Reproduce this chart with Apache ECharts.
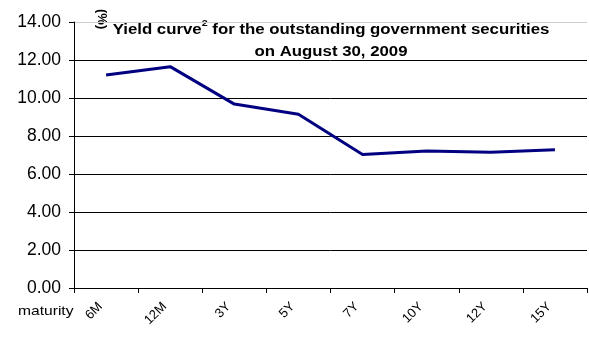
<!DOCTYPE html>
<html>
<head>
<meta charset="utf-8">
<script src="https://cdn.jsdelivr.net/npm/echarts@6/dist/echarts.min.js"></script>
<style>
  html, body { margin: 0; padding: 0; background: #fff; }
  #chart { width: 589px; height: 339px; }
</style>
</head>
<body>
<div id="chart"></div>
<script>
// Maturity buckets along the x axis
const maturities = ['6M', '12M', '3Y', '5Y', '7Y', '10Y', '12Y', '15Y'];
// Yield (%) for each maturity
const yields = [11.21, 11.65, 9.68, 9.14, 7.03, 7.21, 7.14, 7.28];
// Value axis range
const yMin = 0;
const yMax = 14;
const yStep = 2;

const chart = echarts.init(document.getElementById('chart'));
const font = 'Liberation Sans, Arial, sans-serif';
// text is drawn slightly wide, as in the original workbook export
const wide = 1.2;

chart.setOption({
  animation: false,
  backgroundColor: '#ffffff',
  grid: { left: 74, right: 2, top: 22, bottom: 51, containLabel: false },
  xAxis: {
    type: 'category',
    data: maturities,
    boundaryGap: true,
    axisLine: { lineStyle: { color: '#000', width: 1 } },
    axisTick: { show: true, length: 5, lineStyle: { color: '#000' } },
    axisLabel: {
      rotate: 45, color: '#000', fontFamily: font, fontSize: 13,
      margin: 11, padding: [0, 8, 0, 0]
    },
    splitLine: { show: false }
  },
  yAxis: {
    type: 'value',
    min: yMin, max: yMax, interval: yStep,
    axisLine: { show: true, lineStyle: { color: '#000', width: 1 } },
    axisTick: { show: true, length: 5, lineStyle: { color: '#000' } },
    axisLabel: {
      color: '#000', fontFamily: font, fontSize: 17.5, margin: 13,
      formatter: v => v.toFixed(2)
    },
    splitLine: {
      show: true,
      lineStyle: {
        color: ['#000', '#000', '#000', '#000', '#000', '#000', '#000', '#cfcfcf'],
        width: 1
      }
    }
  },
  series: [{
    type: 'line',
    data: yields,
    symbol: 'none',
    lineStyle: { color: '#000080', width: 3 },
    z: 3
  }],
  graphic: [
    {
      type: 'text',
      x: 18, y: 311,
      scaleX: wide,
      style: {
        text: 'maturity', font: '13px ' + font, fill: '#000',
        align: 'left', verticalAlign: 'middle'
      }
    },
    {
      type: 'text',
      x: 102, y: 9,
      rotation: -Math.PI / 2,
      style: {
        text: '(%)', font: 'bold 13px ' + font, fill: '#000',
        align: 'left', verticalAlign: 'middle'
      }
    },
    {
      type: 'text',
      x: 331, y: 19,
      scaleX: wide,
      style: {
        text: '{t|Yield curve}{s|2}{t| for the outstanding government securities}\n{t|on August 30, 2009}',
        align: 'center',
        verticalAlign: 'top',
        lineHeight: 22,
        rich: {
          t: { font: 'bold 14px ' + font, fill: '#000', lineHeight: 22 },
          s: { font: 'bold 9px ' + font, fill: '#000', verticalAlign: 'top', lineHeight: 22, padding: [0, 0, 6, 0] }
        }
      }
    }
  ]
});
</script>
</body>
</html>
